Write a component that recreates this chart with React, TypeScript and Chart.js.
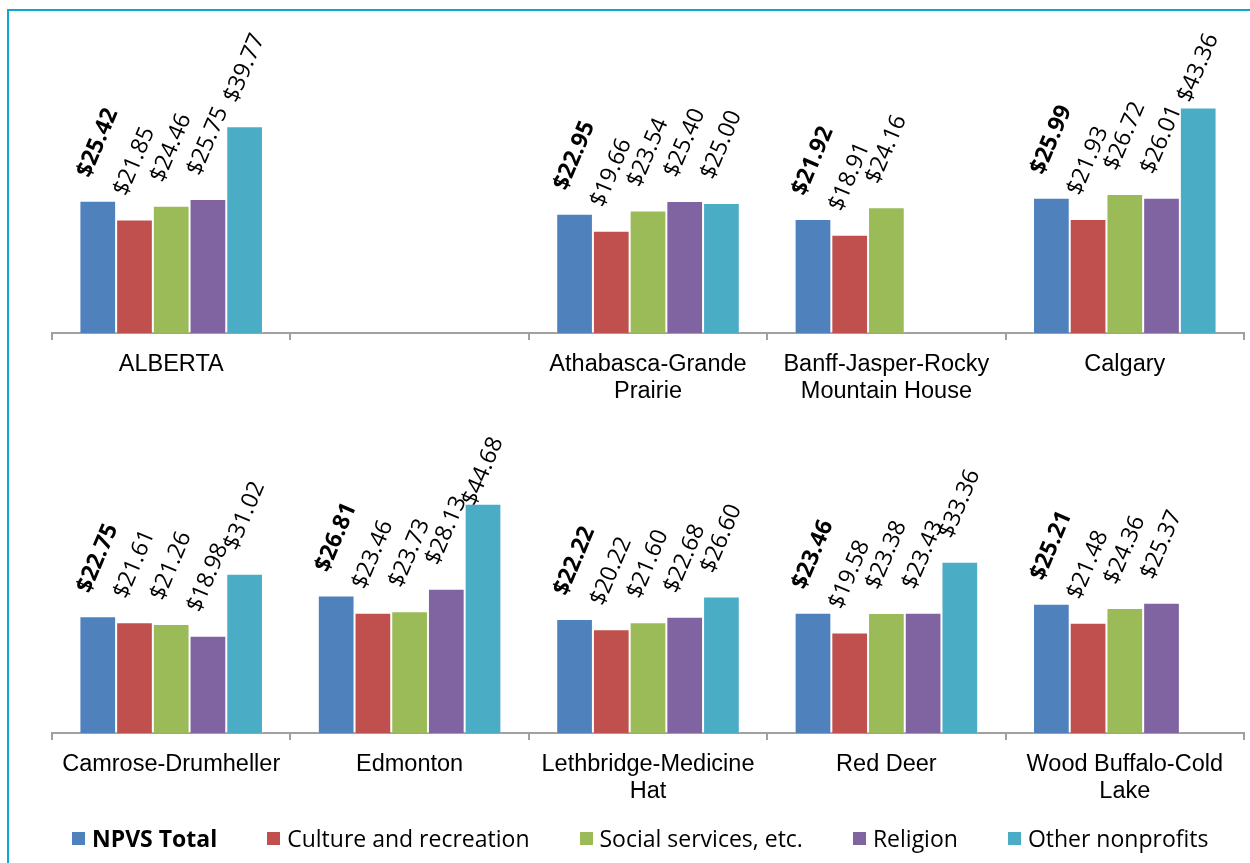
import React, { useEffect, useRef } from 'react';
import { Chart, registerables } from 'chart.js';

Chart.register(...registerables);

// ---- Data ----
const seriesNames = ['NPVS Total', 'Culture and recreation', 'Social services, etc.', 'Religion', 'Other nonprofits'];
const seriesColors = ['#4F81BD', '#C0504D', '#9BBB59', '#8064A2', '#4BACC6'];

const topCategories: (string | string[])[] = [
  'ALBERTA',
  '',
  ['Athabasca-Grande', 'Prairie'],
  ['Banff-Jasper-Rocky', 'Mountain House'],
  'Calgary',
];
const npvsTop = [25.42, null, 22.95, 21.92, 25.99];
const cultureTop = [21.85, null, 19.66, 18.91, 21.93];
const socialTop = [24.46, null, 23.54, 24.16, 26.72];
const religionTop = [25.75, null, 25.4, null, 26.01];
const otherTop = [39.77, null, 25.0, null, 43.36];

const bottomCategories: (string | string[])[] = [
  'Camrose-Drumheller',
  'Edmonton',
  ['Lethbridge-Medicine', 'Hat'],
  'Red Deer',
  ['Wood Buffalo-Cold', 'Lake'],
];
const npvsBottom = [22.75, 26.81, 22.22, 23.46, 25.21];
const cultureBottom = [21.61, 23.46, 20.22, 19.58, 21.48];
const socialBottom = [21.26, 23.73, 21.6, 23.38, 24.36];
const religionBottom = [18.98, 28.13, 22.68, 23.43, 25.37];
const otherBottom = [31.02, 44.68, 26.6, 33.36, null];

const yMax = 50;

const rotatedLabels = {
  id: 'rotatedLabels',
  afterDraw(chart: any) {
    const ctx = chart.ctx;
    const minY = chart.chartArea.top - 5;
    chart.data.datasets.forEach((ds: any, di: number) => {
      const meta = chart.getDatasetMeta(di);
      meta.data.forEach((bar: any, i: number) => {
        const v = ds.data[i];
        if (v == null) return;
        ctx.save();
        ctx.translate(bar.x, Math.max(bar.y - 58, minY));
        ctx.rotate((-67 * Math.PI) / 180);
        ctx.font = `${di === 0 ? 'bold ' : ''}23px "Open Sans"`;
        ctx.fillStyle = '#000';
        ctx.textAlign = 'center';
        ctx.textBaseline = 'middle';
        ctx.fillText('$' + v.toFixed(2), 0, 0);
        ctx.restore();
      });
    });
  },
};

function makeConfig(labels: any[], series: (number | null)[][], padTop: number): any {
  return {
    type: 'bar',
    data: {
      labels,
      datasets: series.map((d, i) => ({
        label: seriesNames[i],
        data: d,
        backgroundColor: seriesColors[i],
        borderColor: 'rgba(255,255,255,0.35)',
        borderWidth: 1,
        categoryPercentage: 0.77,
        barPercentage: 1,
      })),
    },
    options: {
      animation: false,
      responsive: false,
      maintainAspectRatio: false,
      layout: { padding: { top: padTop, left: 52, right: 6, bottom: 0 } },
      plugins: { legend: { display: false }, tooltip: { enabled: false } },
      scales: {
        y: { display: false, min: 0, max: yMax },
        x: {
          afterFit: (scale: any) => {
            scale.height = 87;
          },
          grid: {
            offset: true,
            drawOnChartArea: false,
            drawTicks: true,
            tickLength: 7,
            color: '#A0A0A0',
            lineWidth: 2,
          },
          border: { display: true, color: '#A0A0A0', width: 2 },
          ticks: {
            autoSkip: false,
            maxRotation: 0,
            minRotation: 0,
            padding: 11,
            color: '#000',
            font: { family: '"Liberation Sans", Arial, sans-serif', size: 23.5, lineHeight: 1.15 },
          },
        },
      },
    },
    plugins: [rotatedLabels],
  };
}

export default function App() {
  const topRef = useRef<HTMLCanvasElement | null>(null);
  const botRef = useRef<HTMLCanvasElement | null>(null);

  useEffect(() => {
    const c1 = new Chart(
      topRef.current!,
      makeConfig(topCategories, [npvsTop, cultureTop, socialTop, religionTop, otherTop], 420 - 87 - yMax * 5.2)
    );
    const c2 = new Chart(
      botRef.current!,
      makeConfig(bottomCategories, [npvsBottom, cultureBottom, socialBottom, religionBottom, otherBottom], 425 - 87 - yMax * 5.13)
    );
    return () => {
      c1.destroy();
      c2.destroy();
    };
  }, []);

  return (
    <div style={{ position: 'fixed', left: 0, top: 0, width: 1250, height: 863, background: '#fff', overflow: 'hidden' }}>
      <div
        style={{
          position: 'absolute',
          left: 7,
          top: 9,
          width: 1400,
          height: 1000,
          borderLeft: '2px solid #0FA6D2',
          borderTop: '2px solid #0FA6D2',
        }}
      />
      <canvas ref={topRef} width={1250} height={420} style={{ position: 'absolute', left: 0, top: 0, width: 1250, height: 420 }} />
      <canvas ref={botRef} width={1250} height={425} style={{ position: 'absolute', left: 0, top: 395, width: 1250, height: 425 }} />
      <div
        style={{
          position: 'absolute',
          left: 72,
          top: 825,
          height: 26,
          display: 'flex',
          alignItems: 'center',
          gap: 50,
          fontFamily: '"Open Sans", sans-serif',
          fontSize: 23,
          color: '#000',
          whiteSpace: 'nowrap',
        }}
      >
        {seriesNames.map((n, i) => (
          <div key={n} style={{ display: 'flex', alignItems: 'center' }}>
            <span style={{ display: 'inline-block', width: 13, height: 13, background: seriesColors[i], marginRight: 7 }} />
            <span style={{ fontWeight: i === 0 ? 'bold' : 'normal', lineHeight: '26px' }}>{n}</span>
          </div>
        ))}
      </div>
    </div>
  );
}
